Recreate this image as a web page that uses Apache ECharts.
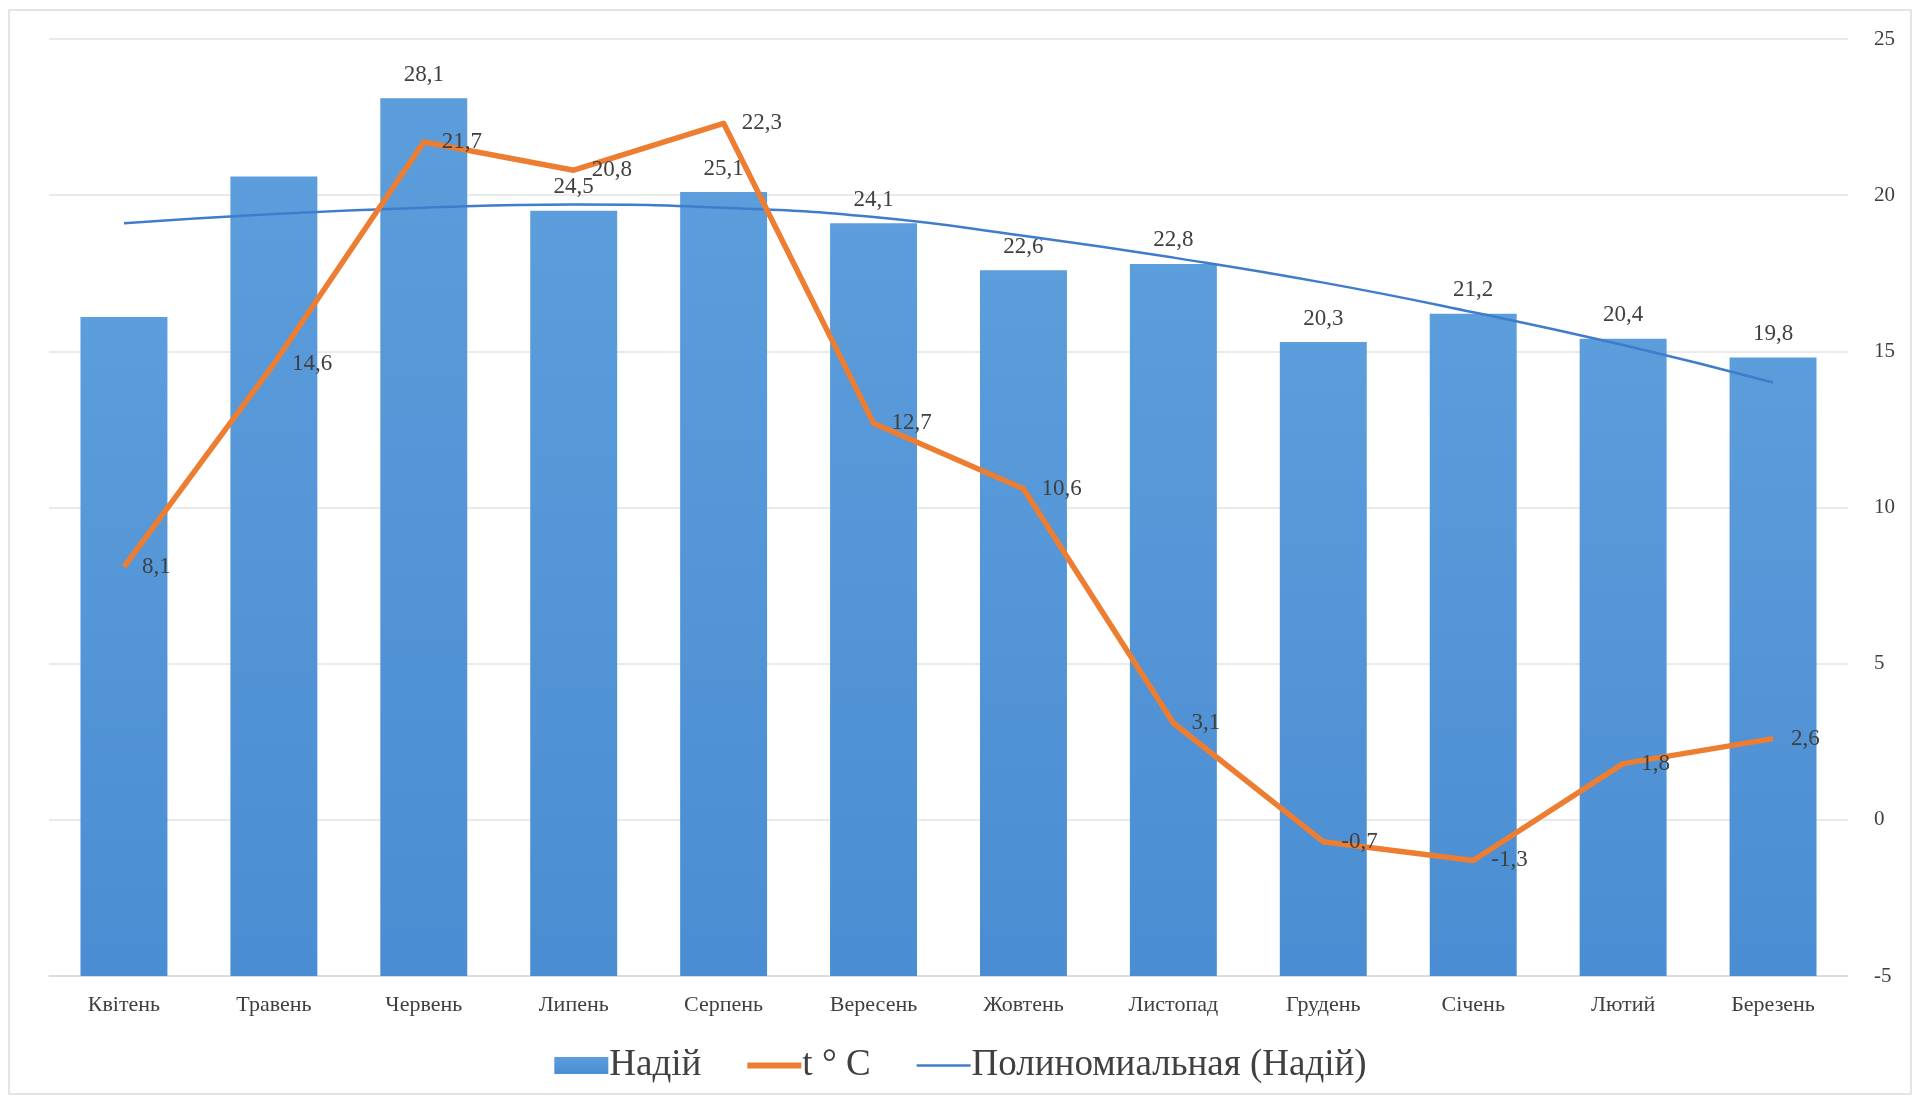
<!DOCTYPE html>
<html>
<head>
<meta charset="utf-8">
<title>Надій та температура</title>
<script src="https://cdn.jsdelivr.net/npm/echarts@6/dist/echarts.min.js"></script>
<style>
  html, body { margin: 0; padding: 0; background: #ffffff; }
  #chart { width: 1921px; height: 1103px; }
</style>
</head>
<body>
<div id="chart"></div>
<script>
// Months of the reporting year (April to March)
const months = ['Квітень', 'Травень', 'Червень', 'Липень', 'Серпень', 'Вересень',
                'Жовтень', 'Листопад', 'Грудень', 'Січень', 'Лютий', 'Березень'];

// Milk yield per month (left, hidden axis)
const yieldValues = [21.1, 25.6, 28.1, 24.5, 25.1, 24.1, 22.6, 22.8, 20.3, 21.2, 20.4, 19.8];
// Months whose yield value is printed above the bar
const yieldLabelShown = [false, false, true, true, true, true, true, true, true, true, true, true];

// Mean air temperature, °C (right axis)
const temperature = [8.1, 14.6, 21.7, 20.8, 22.3, 12.7, 10.6, 3.1, -0.7, -1.3, 1.8, 2.6];

// Polynomial trend of the milk yield, per month
const yieldTrend = [24.1, 24.4, 24.6, 24.7, 24.6, 24.3, 23.7, 23.0, 22.2, 21.25, 20.2, 19.0];

// Right axis ticks
const tempAxisMin = -5, tempAxisMax = 25, tempAxisStep = 5;
// Left axis range for the yield bars
const yieldAxisMin = 0, yieldAxisMax = 30, yieldAxisStep = 5;

const comma = v => String(v).replace('.', ',');
const FONT = '"Liberation Serif", "DejaVu Serif", serif';
const TEXT = '#404040';

const chart = echarts.init(document.getElementById('chart'), null, { renderer: 'canvas' });

chart.setOption({
  backgroundColor: '#ffffff',
  animation: false,
  textStyle: { fontFamily: FONT },
  graphic: [{
    type: 'rect',
    shape: { x: 9, y: 10, width: 1902, height: 1084 },
    style: { fill: 'none', stroke: '#dcdcdc', lineWidth: 1.5 },
    silent: true,
    z: -10
  }],
  grid: { left: 49, right: 73, top: 39, bottom: 127, containLabel: false },
  legend: {
    bottom: 14,
    left: 'center',
    itemGap: 46,
    itemWidth: 54,
    itemHeight: 17,
    textStyle: { fontFamily: FONT, fontSize: 37, color: TEXT, padding: [0, 0, 0, -4] },
    data: [
      { name: 'Надій', icon: 'rect' },
      { name: 't ° C', icon: 'path://M0,0 L60,0 L60,6.5 L0,6.5 Z' },
      { name: 'Полиномиальная (Надій)', icon: 'path://M0,0 L60,0 L60,2.6 L0,2.6 Z' }
    ]
  },
  xAxis: {
    type: 'category',
    data: months,
    boundaryGap: true,
    axisLine: { show: true, lineStyle: { color: '#d9d9d9', width: 1.5 } },
    axisTick: { show: false },
    axisLabel: { color: TEXT, fontFamily: FONT, fontSize: 22, margin: 18 }
  },
  yAxis: [
    {
      type: 'value',
      min: yieldAxisMin, max: yieldAxisMax, interval: yieldAxisStep,
      show: false,
      splitLine: { show: false }
    },
    {
      type: 'value',
      position: 'right',
      min: tempAxisMin, max: tempAxisMax, interval: tempAxisStep,
      axisLine: { show: false },
      axisTick: { show: false },
      axisLabel: { color: TEXT, fontFamily: FONT, fontSize: 21, margin: 26 },
      splitLine: { show: true, lineStyle: { color: '#e3e3e3', width: 1.5 } }
    }
  ],
  series: [
    {
      name: 'Надій',
      type: 'bar',
      yAxisIndex: 0,
      barWidth: '58%',
      data: yieldValues.map((v, i) => ({
        value: v,
        label: { show: yieldLabelShown[i] }
      })),
      itemStyle: {
        color: new echarts.graphic.LinearGradient(0, 0, 0, 1, [
          { offset: 0, color: '#5C9DDB' },
          { offset: 1, color: '#4A8DD2' }
        ])
      },
      label: {
        position: 'top',
        distance: 12,
        color: TEXT,
        fontFamily: FONT,
        fontSize: 23,
        formatter: p => comma(p.value)
      },
      z: 2
    },
    {
      name: 't ° C',
      type: 'line',
      yAxisIndex: 1,
      data: temperature,
      symbol: 'circle',
      symbolSize: 0.1,
      showSymbol: true,
      lineStyle: { color: '#ED7D31', width: 5.5, join: 'round' },
      itemStyle: { color: '#ED7D31' },
      label: {
        show: true,
        position: 'right',
        distance: 18,
        color: TEXT,
        fontFamily: FONT,
        fontSize: 23,
        formatter: p => comma(p.value)
      },
      z: 4
    },
    {
      name: 'Полиномиальная (Надій)',
      type: 'line',
      yAxisIndex: 0,
      data: yieldTrend,
      smooth: true,
      symbol: 'none',
      lineStyle: { color: '#3F7DCB', width: 2.5 },
      itemStyle: { color: '#3F7DCB' },
      z: 3
    }
  ]
});
</script>
</body>
</html>
